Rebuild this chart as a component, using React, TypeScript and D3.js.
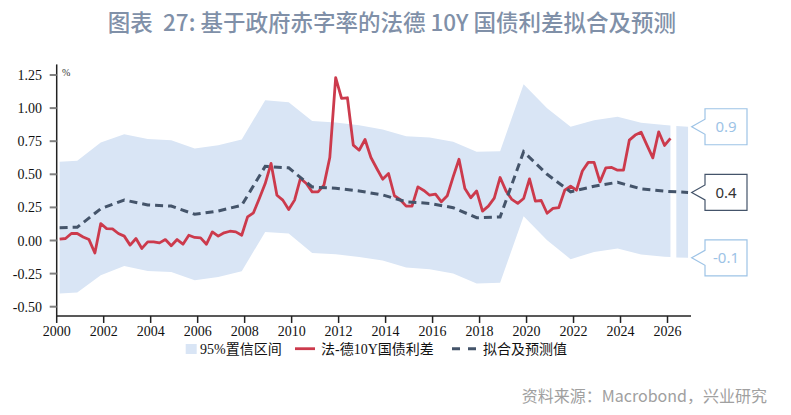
import React from "react";
import * as d3 from "d3";

// ---------- data ----------
const TITLE = "图表  27: 基于政府赤字率的法德 10Y 国债利差拟合及预测";
const SOURCE = "资料来源：Macrobond，兴业研究";
const UNIT = "%";
const LEGEND_LABELS = ["95%置信区间", "法-德10Y国债利差", "拟合及预测值"];

const X_TICKS = [2000, 2002, 2004, 2006, 2008, 2010, 2012, 2014, 2016, 2018, 2020, 2022, 2024, 2026];
const Y_TICKS = [-0.5, -0.25, 0, 0.25, 0.5, 0.75, 1.0, 1.25];

// quarterly 法-德10Y国债利差, starting 2000Q1
const spreadStart = "2000Q1";
const spreadValues = [
  0.01, 0.015, 0.053, 0.053, 0.027, 0.007, -0.094, 0.128, 0.09, 0.088,
  0.053, 0.033, -0.035, 0.015, -0.06, -0.01, -0.01, -0.018, 0.007, -0.04,
  0.007, -0.028, 0.04, 0.023, 0.02, -0.028, 0.065, 0.033, 0.058, 0.07,
  0.065, 0.04, 0.178, 0.209, 0.317, 0.43, 0.582, 0.342, 0.305, 0.234,
  0.305, 0.469, 0.43, 0.367, 0.367, 0.418, 0.627, 1.23, 1.073, 1.078,
  0.72, 0.682, 0.763, 0.627, 0.544, 0.463, 0.506, 0.338, 0.308, 0.26,
  0.26, 0.405, 0.378, 0.342, 0.35, 0.292, 0.338, 0.48, 0.614, 0.393,
  0.323, 0.374, 0.222, 0.26, 0.32, 0.476, 0.375, 0.31, 0.28, 0.317,
  0.465, 0.297, 0.302, 0.206, 0.242, 0.249, 0.38, 0.41, 0.38, 0.525,
  0.59, 0.59, 0.443, 0.549, 0.552, 0.531, 0.531, 0.758, 0.796, 0.818,
  0.72, 0.624, 0.821, 0.718, 0.771,
];

// fitted / forecast values
const fitQuarters = [
  "2000Q1", "2000Q4", "2001Q4", "2002Q4", "2003Q4", "2004Q4", "2005Q4", "2006Q4",
  "2007Q4", "2008Q4", "2009Q4", "2010Q4", "2011Q4", "2012Q4", "2013Q4", "2014Q4",
  "2015Q4", "2016Q4", "2017Q4", "2018Q4", "2019Q4", "2020Q4", "2021Q4", "2022Q4",
  "2023Q4", "2024Q4", "2025Q4", "2026Q4",
];
const fitValues = [
  0.097, 0.1, 0.24, 0.306, 0.268, 0.26, 0.198, 0.223,
  0.266, 0.56, 0.549, 0.404, 0.394, 0.374, 0.344, 0.292,
  0.28, 0.248, 0.172, 0.178, 0.67, 0.5, 0.368, 0.41,
  0.44, 0.39, 0.372, 0.363,
];

// 95% confidence band
const bandQuarters = [
  "2000Q1", "2000Q4", "2001Q4", "2002Q4", "2003Q4", "2004Q4", "2005Q4", "2006Q4",
  "2007Q4", "2008Q4", "2009Q4", "2010Q4", "2011Q4", "2012Q4", "2013Q4", "2014Q4",
  "2015Q4", "2016Q4", "2017Q4", "2018Q4", "2019Q4", "2020Q4", "2021Q4", "2022Q4",
  "2023Q4", "2024Q4", "2025Q4", "2026Q1", "2026Q2", "2026Q4",
];
const bandUpper = [
  0.594, 0.602, 0.741, 0.803, 0.766, 0.758, 0.695, 0.72,
  0.763, 1.06, 1.045, 0.902, 0.892, 0.871, 0.839, 0.788,
  0.778, 0.745, 0.67, 0.675, 1.181, 0.998, 0.859, 0.909,
  0.934, 0.889, 0.872, 0.869, 0.864, 0.859,
];
const bandLower = [
  -0.4, -0.393, -0.262, -0.192, -0.23, -0.237, -0.3, -0.275,
  -0.232, 0.065, 0.053, -0.094, -0.104, -0.124, -0.151, -0.204,
  -0.217, -0.249, -0.325, -0.32, 0.184, 0.002, -0.141, -0.086,
  -0.06, -0.106, -0.122, -0.124, -0.128, -0.131,
];
const bandBreakAfter = "2026Q1";

// ---------- helpers ----------
const qToYear = (q: string) => {
  const yr = +q.slice(0, 4);
  const qq = +q.slice(5);
  return yr + (qq - 0.5) / 4;
};

const COLORS = {
  band: "#d9e5f5",
  spread: "#cc3a4c",
  fit: "#44546a",
  title: "#8090a8",
  source: "#a0a0a0",
  light: "#9dc3e6",
};

const SERIF = "'Liberation Serif', 'Times New Roman', 'Noto Sans CJK SC', serif";
const CJK_SERIF = "'Liberation Serif', 'Noto Sans CJK SC', serif";
const SANS = "'Noto Sans CJK SC', 'Noto Sans', sans-serif";

export default function App() {
  const W = 791;
  const H = 415;
  const x = d3.scaleLinear().domain([2000, 2027]).range([56.7, 691]);
  const y = d3.scaleLinear().domain([-0.5, 1.25]).range([306.7, 75]);

  const axisX = 56.7;
  const axisBottom = y(-0.57);
  const axisTop = y(1.33);

  const startYear = qToYear(spreadStart);
  const spreadPts: [number, number][] = spreadValues.map((v, i) => [startYear + i * 0.25, v]);
  const fitPts: [number, number][] = fitQuarters.map((q, i) => [qToYear(q), fitValues[i]]);
  const bandPts = bandQuarters.map((q, i) => ({ t: qToYear(q), hi: bandUpper[i], lo: bandLower[i], q }));
  const breakIdx = bandQuarters.indexOf(bandBreakAfter);
  const bandSegs = [bandPts.slice(0, breakIdx + 1), bandPts.slice(breakIdx + 1)];

  const area = d3
    .area<{ t: number; hi: number; lo: number }>()
    .x((d) => x(d.t))
    .y0((d) => y(d.lo))
    .y1((d) => y(d.hi));
  const line = d3
    .line<[number, number]>()
    .x((d) => x(d[0]))
    .y((d) => y(d[1]));

  const lastBand = bandPts[bandPts.length - 1];
  const lastFit = fitPts[fitPts.length - 1];
  const callouts = [
    { v: lastBand.hi, stroke: COLORS.light, text: COLORS.light },
    { v: lastFit[1], stroke: COLORS.fit, text: "#333333" },
    { v: lastBand.lo, stroke: COLORS.light, text: COLORS.light },
  ];
  const tipX = 691.7;
  const bx = 705;
  const bw = 42;
  const bh = 36;
  const ph = 7.5;

  return (
    <svg
      width={W}
      height={H}
      style={{ position: "absolute", left: 0, top: 0, background: "#fff" }}
    >
      <rect x={0} y={0} width={W} height={H} fill="#fff" />
      <text
        x={392}
        y={31}
        textAnchor="middle"
        fontFamily={SANS}
        fontWeight={500}
        fontSize={22.5}
        fill={COLORS.title}
        style={{ whiteSpace: "pre" }}
      >
        {TITLE}
      </text>

      {/* band */}
      {bandSegs.map((seg, i) => (
        <path key={i} d={area(seg) || ""} fill={COLORS.band} />
      ))}

      {/* spread line */}
      <path
        d={line(spreadPts) || ""}
        fill="none"
        stroke={COLORS.spread}
        strokeWidth={2.8}
        strokeLinejoin="round"
      />
      {/* fit line */}
      <path
        d={line(fitPts) || ""}
        fill="none"
        stroke={COLORS.fit}
        strokeWidth={3}
        strokeDasharray="8,5"
      />

      {/* y axis */}
      <line x1={axisX} x2={axisX} y1={axisTop} y2={axisBottom} stroke="#222" strokeWidth={1.5} />
      {Y_TICKS.map((t) => (
        <g key={t}>
          <line x1={axisX - 7} x2={axisX} y1={y(t)} y2={y(t)} stroke="#808080" strokeWidth={2} />
          <text
            x={42}
            y={y(t) + 5}
            textAnchor="end"
            fontFamily={SERIF}
            fontSize={14}
            fill="#111"
          >
            {t.toFixed(2)}
          </text>
        </g>
      ))}
      <text x={62} y={76} fontFamily={SERIF} fontSize={10} fill="#333">
        {UNIT}
      </text>

      {/* x axis */}
      <line x1={axisX} x2={x(2027)} y1={axisBottom} y2={axisBottom} stroke="#222" strokeWidth={1.5} />
      {X_TICKS.map((t) => (
        <g key={t}>
          <line x1={x(t)} x2={x(t)} y1={axisBottom} y2={axisBottom + 7} stroke="#222" strokeWidth={1.5} />
          <text
            x={x(t)}
            y={axisBottom + 20}
            textAnchor="middle"
            fontFamily={SERIF}
            fontSize={14}
            fill="#111"
          >
            {t}
          </text>
        </g>
      ))}

      {/* callouts */}
      {callouts.map((c, i) => {
        const ty = y(c.v);
        const d = `M${bx},${ty - bh / 2} H${bx + bw} V${ty + bh / 2} H${bx} V${ty + ph} L${tipX},${ty} L${bx},${ty - ph} Z`;
        return (
          <g key={i}>
            <path d={d} fill="#fff" stroke={c.stroke} strokeWidth={1.2} />
            <text
              x={bx + bw / 2}
              y={ty + 5.5}
              textAnchor="middle"
              fontFamily="'Noto Sans', sans-serif"
              fontSize={15}
              fill={c.text}
            >
              {c.v.toFixed(1)}
            </text>
          </g>
        );
      })}

      {/* legend */}
      <rect x={185.7} y={344} width={11} height={10} fill={COLORS.band} />
      <text x={200} y={354} fontFamily={CJK_SERIF} fontSize={14} fill="#111">
        {LEGEND_LABELS[0]}
      </text>
      <line x1={295} x2={315} y1={348.7} y2={348.7} stroke={COLORS.spread} strokeWidth={2.8} />
      <text x={321} y={354} fontFamily={CJK_SERIF} fontSize={14} fill="#111">
        {LEGEND_LABELS[1]}
      </text>
      <line
        x1={452}
        x2={478}
        y1={348.7}
        y2={348.7}
        stroke={COLORS.fit}
        strokeWidth={3}
        strokeDasharray="8,8"
      />
      <text x={483} y={354} fontFamily={CJK_SERIF} fontSize={14} fill="#111">
        {LEGEND_LABELS[2]}
      </text>

      {/* source */}
      <text x={767} y={402} textAnchor="end" fontFamily={SANS} fontSize={16} fill={COLORS.source}>
        {SOURCE}
      </text>
    </svg>
  );
}
